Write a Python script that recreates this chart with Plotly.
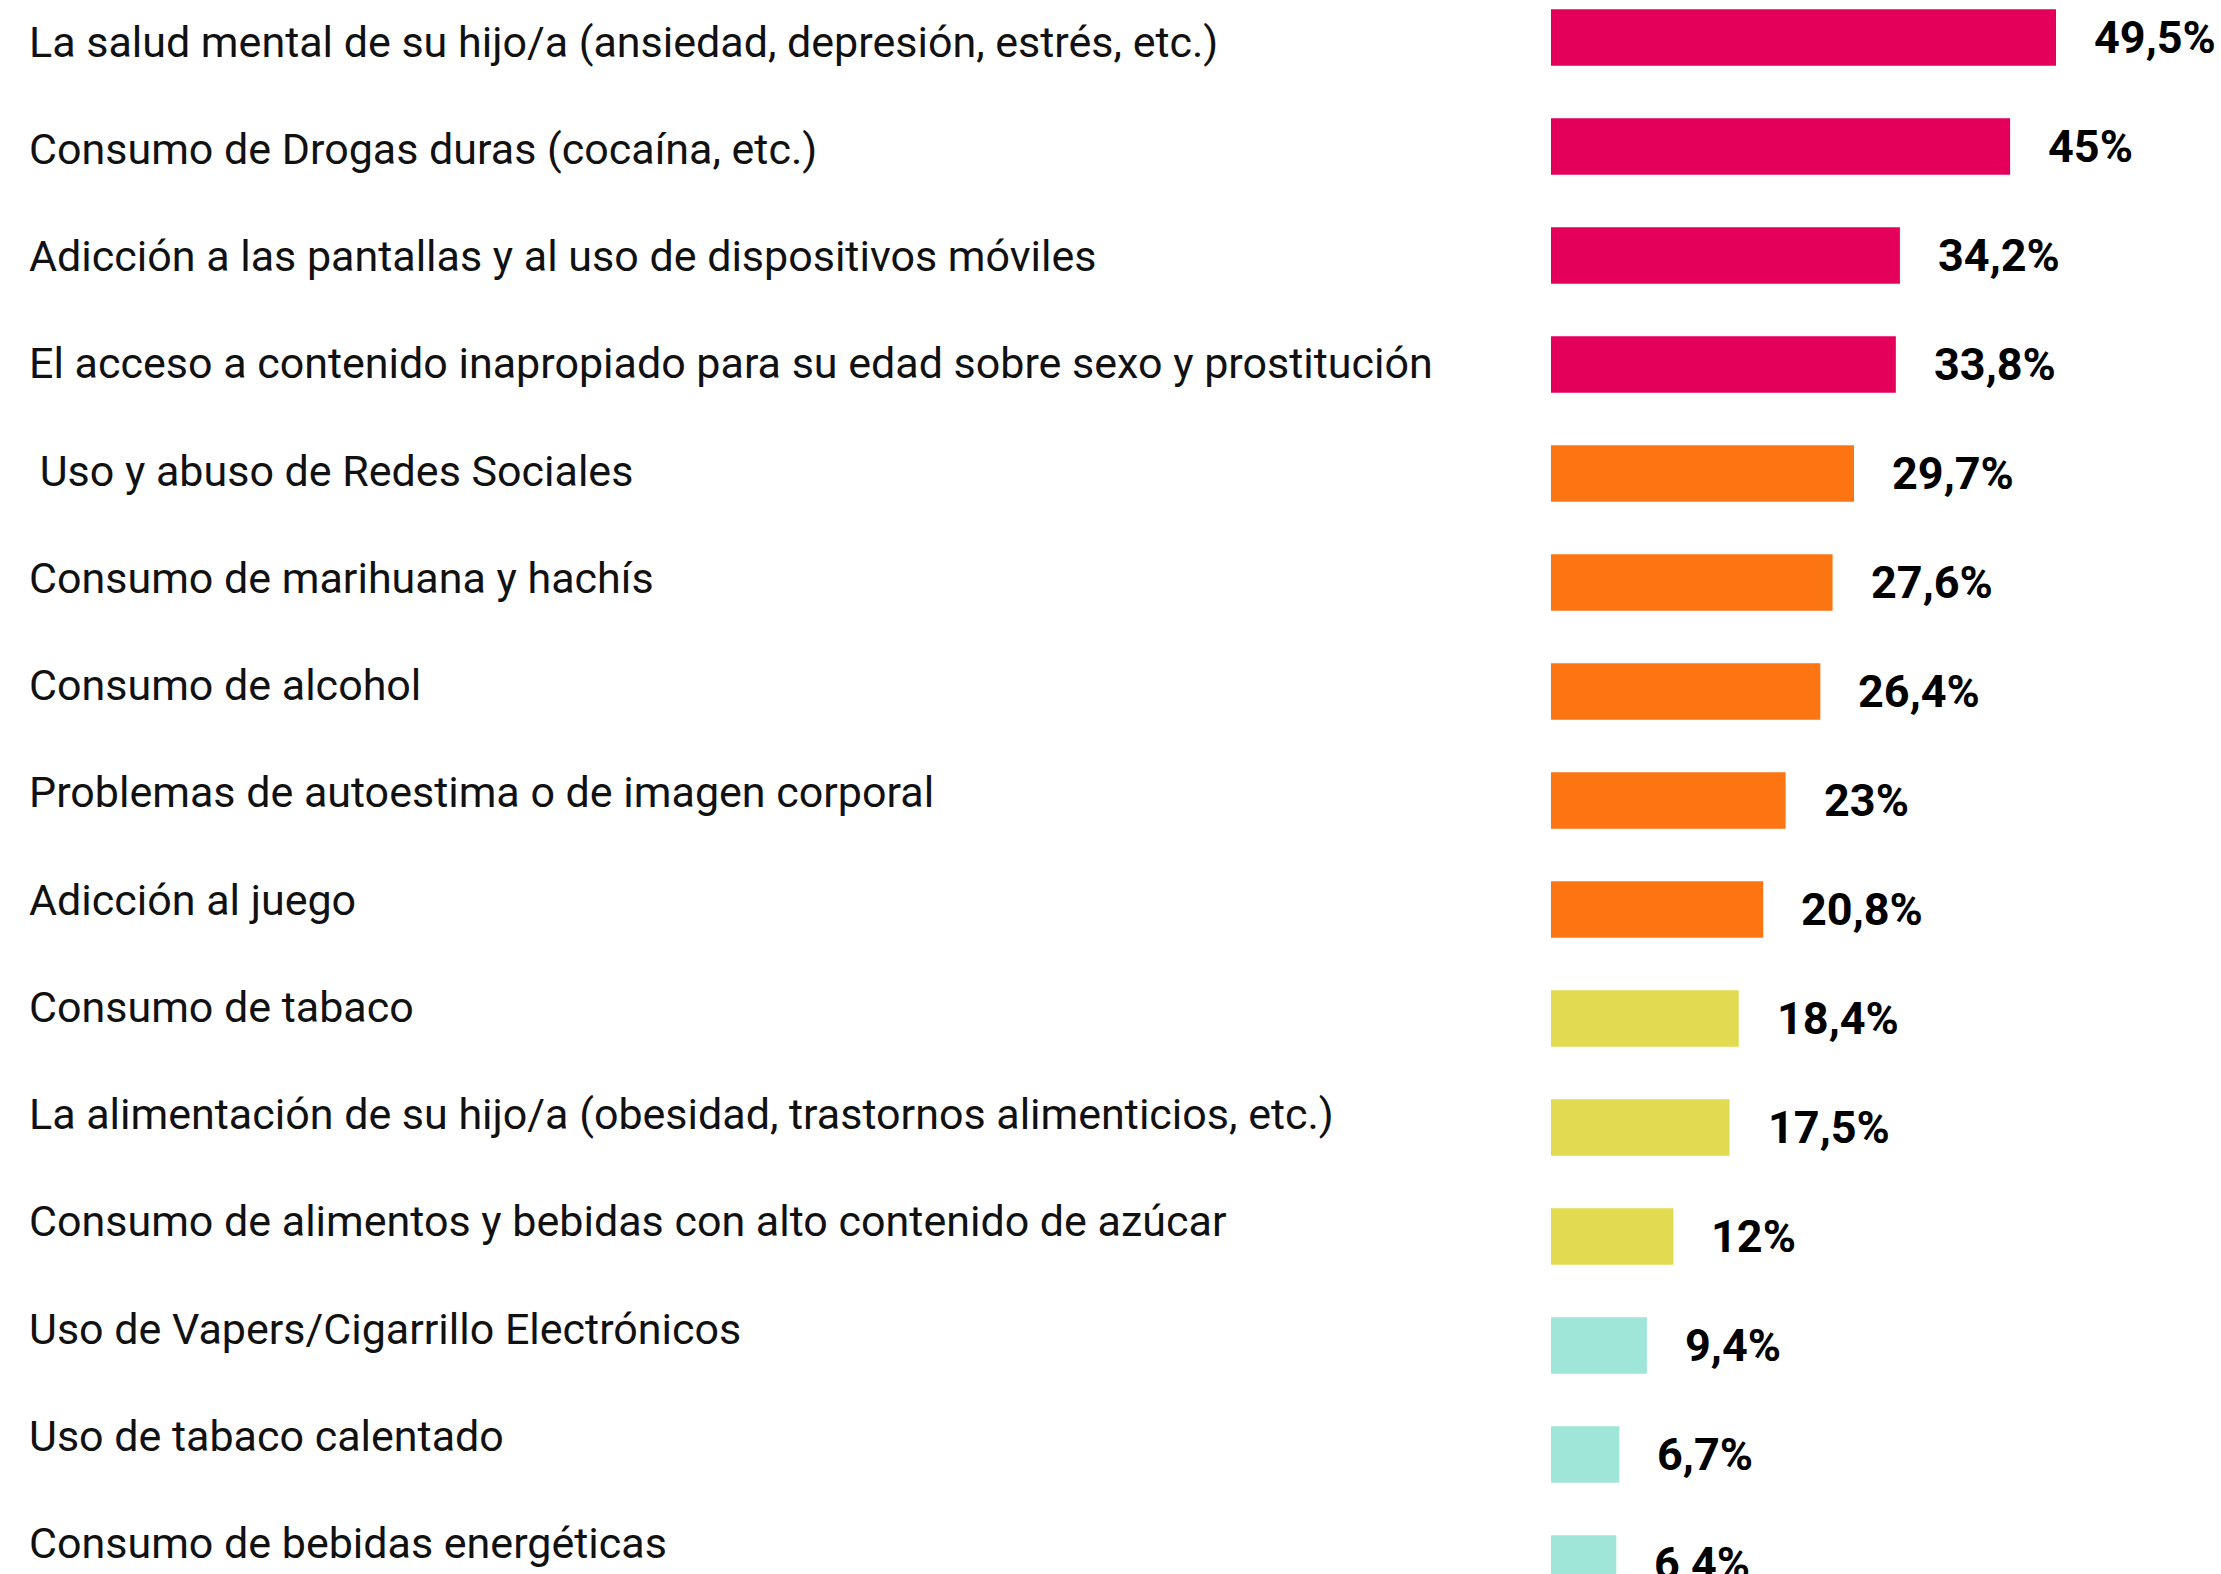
import plotly.graph_objects as go

categories = [
    "La salud mental de su hijo/a (ansiedad, depresión, estrés, etc.)",
    "Consumo de Drogas duras (cocaína, etc.)",
    "Adicción a las pantallas y al uso de dispositivos móviles",
    "El acceso a contenido inapropiado para su edad sobre sexo y prostitución",
    "\u00a0Uso y abuso de Redes Sociales",
    "Consumo de marihuana y hachís",
    "Consumo de alcohol",
    "Problemas de autoestima o de imagen corporal",
    "Adicción al juego",
    "Consumo de tabaco",
    "La alimentación de su hijo/a (obesidad, trastornos alimenticios, etc.)",
    "Consumo de alimentos y bebidas con alto contenido de azúcar",
    "Uso de Vapers/Cigarrillo Electrónicos",
    "Uso de tabaco calentado",
    "Consumo de bebidas energéticas",
]
values = [49.5, 45, 34.2, 33.8, 29.7, 27.6, 26.4, 23, 20.8, 18.4, 17.5, 12, 9.4, 6.7, 6.4]
groups = ["high"] * 4 + ["mid"] * 5 + ["low"] * 3 + ["min"] * 3
group_colors = {"high": "#E4005A", "mid": "#FD7513", "low": "#E2DA50", "min": "#A0E6D8"}

W, H = 2221, 1574
idx = list(range(len(categories)))
labels_txt = [f"{v:g}".replace(".", ",") + "%" for v in values]

fig = go.Figure()
fig.add_trace(go.Bar(
    x=values, y=idx, orientation="h",
    marker=dict(color=[group_colors[g] for g in groups], line=dict(width=0)),
    width=0.52, hoverinfo="skip",
))

# value labels
for i, (v, t) in enumerate(zip(values, labels_txt)):
    fig.add_annotation(x=v, y=i, xref="x", yref="y", text=t, showarrow=False,
                       xanchor="left", yanchor="middle", xshift=36,
                       font=dict(family="Roboto", size=45, color="#000000", weight="bold"))

# category labels (on a secondary, slightly tighter vertical scale)
for i, c in enumerate(categories):
    fig.add_annotation(x=27 / W, y=i, xref="paper", yref="y2", text=c, showarrow=False,
                       xanchor="left", yanchor="middle",
                       font=dict(family="Roboto", size=43, color="#111111"))

bar_step = 109.0
bar_top = 37.5
lab_step = 107.27
lab_top = 41.5
x_left = 1551
px_per_unit = (2056 - x_left) / 49.5

fig.update_layout(
    width=W, height=H,
    margin=dict(l=0, r=0, t=0, b=0),
    paper_bgcolor="white", plot_bgcolor="white",
    showlegend=False,
    xaxis=dict(domain=[x_left / W, 1], range=[0, (W - x_left) / px_per_unit],
               visible=False, fixedrange=True),
    yaxis=dict(range=[(H - bar_top) / bar_step, -bar_top / bar_step],
               visible=False, fixedrange=True),
    yaxis2=dict(range=[(H - lab_top) / lab_step, -lab_top / lab_step],
                overlaying="y", visible=False, fixedrange=True),
)
fig.add_trace(go.Scatter(x=[None], y=[None], yaxis="y2", showlegend=False))

fig.write_html("out.html")
